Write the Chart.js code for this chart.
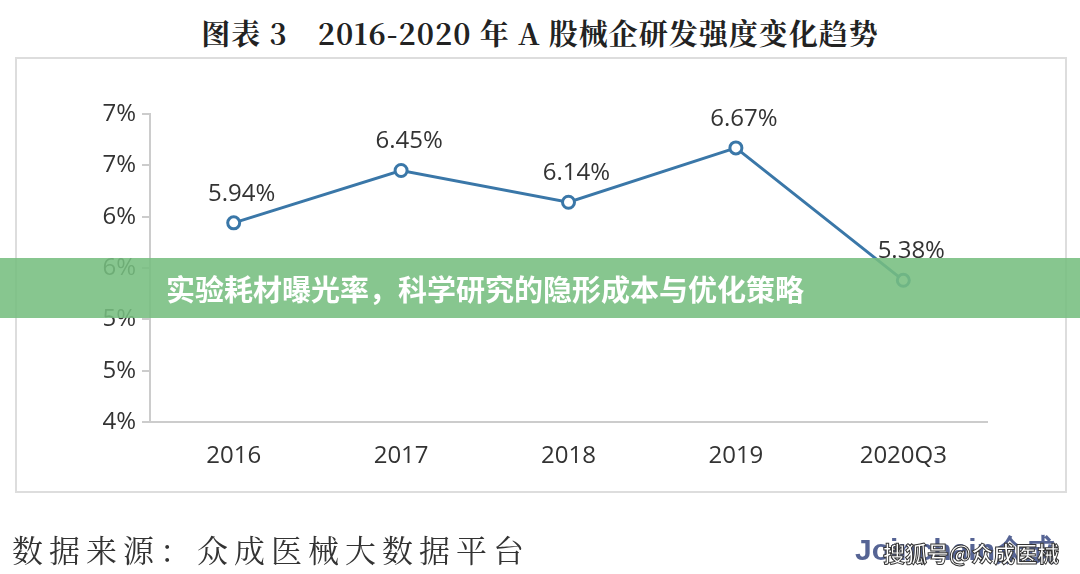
<!DOCTYPE html>
<html><head><meta charset="utf-8">
<script src="https://cdn.jsdelivr.net/npm/chart.js@4"></script>
<style>
body{margin:0;width:1080px;height:574px;background:#fff;position:relative;overflow:hidden;font-family:"Noto Sans CJK SC",sans-serif}
#title{position:absolute;top:12px;left:0;width:1080px;text-align:center;font-family:"Noto Serif CJK SC","Liberation Serif",serif;font-weight:bold;font-size:29px;color:#222;letter-spacing:1px}
#box{position:absolute;left:15px;top:57px;width:1048px;height:432px;border:2px solid #ddd}
canvas{position:absolute;left:0;top:0}
#banner{position:absolute;left:0;top:258px;width:1080px;height:60px;background:rgba(118,190,128,0.88);color:#fff;font-weight:bold;font-size:29px;line-height:60px;padding-left:166px;box-sizing:border-box}
#src{position:absolute;left:12px;top:526px;font-family:"Noto Serif CJK SC",serif;font-size:31px;color:#333;letter-spacing:6px}
#logo{position:absolute;left:855px;top:530px;font-size:30px;font-weight:bold;color:#2c3e7a;opacity:0.8;font-family:Arial,sans-serif}
#sohu{position:absolute;left:883px;top:536px;font-size:22px;color:#fff;-webkit-text-stroke:1px #333;font-weight:bold}
</style></head><body>
<div id="title">图表 3　2016-2020 年 A 股械企研发强度变化趋势</div>
<div id="box"></div>
<canvas id="c" width="1080" height="574"></canvas>
<div id="banner">实验耗材曝光率，科学研究的隐形成本与优化策略</div>
<div id="src">数据来源：众成医械大数据平台</div>
<div id="logo">Joinchain众成</div>
<div id="sohu">搜狐号@众成医械</div>
<script>
const years = ['2016', '2017', '2018', '2019', '2020Q3'];
const intensity = [5.94, 6.45, 6.14, 6.67, 5.38];

const labelPlugin = {
  id: 'pointLabels',
  afterDatasetsDraw(chart) {
    const c = chart.ctx;
    const meta = chart.getDatasetMeta(0);
    c.save();
    c.font = '24px "Open Sans", sans-serif';
    c.fillStyle = '#333';
    c.textAlign = 'center';
    meta.data.forEach((pt, i) => {
      c.fillText(intensity[i].toFixed(2) + '%', pt.x + 8, pt.y - 22);
    });
    c.restore();
  }
};

new Chart(document.getElementById('c'), {
  type: 'line',
  data: {
    labels: years,
    datasets: [{
      data: intensity,
      borderColor: '#3a77a8',
      borderWidth: 3,
      pointRadius: 6,
      pointBorderWidth: 3,
      pointBackgroundColor: '#fff',
      pointBorderColor: '#3a77a8',
      tension: 0
    }]
  },
  options: {
    responsive: false,
    animation: false,
    layout: { padding: { top: 114, right: 93, left: 0, bottom: 0 } },
    plugins: { legend: { display: false }, tooltip: { enabled: false } },
    scales: {
      x: {
        offset: true,
        afterFit(s) { s.height = 152; },
        grid: { display: false },
        border: { color: '#ccc', width: 2 },
        ticks: { color: '#333', padding: 12, font: { size: 24, family: '"Open Sans", sans-serif' } }
      },
      y: {
        min: 4, max: 7,
        afterFit(s) { s.width = 150; },
        grid: { drawOnChartArea: false, tickLength: 8, color: '#ccc', lineWidth: 2 },
        border: { color: '#ccc', width: 2 },
        ticks: {
          stepSize: 0.5, color: '#333', padding: 6,
          font: { size: 24, family: '"Open Sans", sans-serif' },
          callback: v => Math.round(v) + '%'
        }
      }
    }
  },
  plugins: [labelPlugin]
});
</script>
</body></html>
